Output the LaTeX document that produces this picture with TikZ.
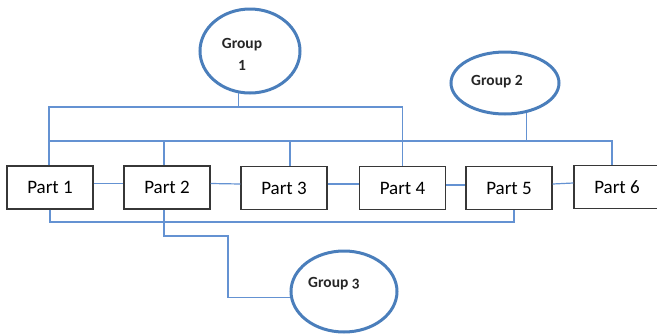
\documentclass[tikz,border=0pt]{standalone}
\usepackage{fontspec}
\setmainfont{Carlito}
\usetikzlibrary{shapes.geometric}
\definecolor{linkblue}{RGB}{100,146,210}
\definecolor{ringblue}{RGB}{74,126,187}
\definecolor{boxgray}{RGB}{55,55,55}
\begin{document}
\begin{tikzpicture}[x=1pt,y=-1pt,
  part/.style={draw=boxgray,line width=1.2pt,minimum width=86pt,minimum height=43pt,inner sep=0pt,
    font=\fontsize{19}{22}\selectfont},
  group/.style={draw=ringblue,line width=3pt,ellipse,inner sep=0pt},
  glabel/.style={font=\bfseries\fontsize{15.5}{22}\selectfont,align=center,text=black!85},
  link/.style={draw=linkblue,line width=1.2pt}]
\useasboundingbox (0,0) rectangle (657,333);
\clip (0,0) rectangle (657,333);
% parts
\node[part] (p1) at (50,187.5) {Part 1};
\node[part] (p2) at (167,187.5) {Part 2};
\node[part] (p3) at (284,188) {Part 3};
\node[part] (p4) at (402.5,188) {Part 4};
\node[part] (p5) at (509,188) {Part 5};
\node[part] (p6) at (617,187) {Part 6};
% groups
\node[group,minimum width=100pt,minimum height=84pt,
  label={[glabel,xshift=-8pt,yshift=-3pt]center:Group\\1}] (g1) at (250,51) {};
\node[group,minimum width=108pt,minimum height=62pt,
  label={[glabel,xshift=-8pt,yshift=1pt]center:Group 2}] (g2) at (505,83) {};
\node[group,minimum width=106pt,minimum height=81pt,
  label={[glabel,xshift=-10pt,yshift=8pt]center:{Group \addfontfeatures{Numbers=OldStyle}3}}] (g3) at (344,291.5) {};
% bus levels
\coordinate (bus1) at (0,107);
\coordinate (bus2) at (0,141);
\coordinate (bus3) at (0,222);
\coordinate (c3) at (228,236);
\coordinate (p5s) at ([xshift=5pt]p5.south);
% chain between parts
\draw[link] ([yshift=4pt]p1.east) -- ([yshift=4pt]p2.west);
\draw[link] ([yshift=4pt]p2.east) -- ([yshift=4pt]p3.west);
\draw[link] ([yshift=4pt]p3.east) -- ([yshift=4pt]p4.west);
\draw[link] ([yshift=3pt]p4.east) -- ([yshift=3pt]p5.west);
\draw[link] ([yshift=4pt]p5.east) -- ([yshift=4pt]p6.west);
% group 1
\draw[link] (g1.255) -- (g1.255 |- bus1);
\draw[link] ([xshift=-1pt]p1.north) |- (bus1 -| p4.north) -- (p4.north);
% group 2
\draw[link] (g2.306) -- (g2.306 |- bus2);
\draw[link] ([xshift=-1pt]p1.north |- bus2) -| ([xshift=-5pt]p6.north);
\draw[link] ([xshift=-3pt]p2.north |- bus2) -- ([xshift=-3pt]p2.north);
\draw[link] ([xshift=6pt]p3.north |- bus2) -- ([xshift=6pt]p3.north);
% bottom bus
\draw[link] (p1.south) |- (bus3 -| p5s) -- (p5s);
% group 3
\draw[link] ([xshift=-3pt]p2.south) |- (c3) |- (g3.186);
\end{tikzpicture}
\end{document}
